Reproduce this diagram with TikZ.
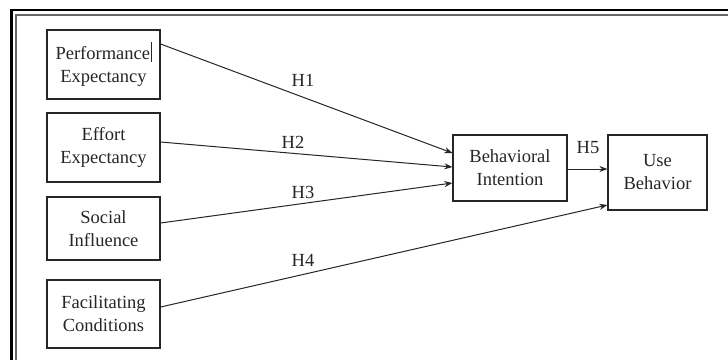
\documentclass[tikz,border=0pt]{standalone}
\usepackage{fontspec}
\setmainfont{Liberation Serif}
\usetikzlibrary{arrows.meta}
\begin{document}
\begin{tikzpicture}[x=1pt,y=-1pt,
  box/.style={draw=black!85,line width=1.2pt,align=center,inner sep=0pt,
    font=\fontsize{18.5}{23}\selectfont,text=black!85},
  lab/.style={font=\fontsize{18.5}{22}\selectfont,text=black!85,inner sep=0pt},
  conn/.style={draw=black!85,line width=1pt,-{Stealth[length=8pt,width=6pt]}}]
\useasboundingbox (0,0) rectangle (728,360);
\fill[white] (0,0) rectangle (728,360);
% frame
\draw[black,line width=2.2pt] (11.5,360) -- (11.5,10.3) -- (728,10.3);
\draw[black!60,line width=1.3pt] (16,360) -- (16,15) -- (728,15);
% nodes
\node[box,minimum width=113pt,minimum height=69pt] (PE) at (103.5,64.5) {Performance\kern0.5pt\rule[-0.25ex]{0.9pt}{1.05em}\\Expectancy};
\node[box,minimum width=113pt,minimum height=69pt] (EE) at (103.5,147.5) {Effort\\Expectancy};
\node[box,minimum width=113pt,minimum height=63pt] (SI) at (103.5,228.5) {Social\\Influence};
\node[box,minimum width=113pt,minimum height=68pt] (FC) at (103.5,314) {Facilitating\\Conditions};
\node[box,minimum width=114pt,minimum height=66pt] (BI) at (510,168) {Behavioral\\Intention};
\node[box,minimum width=99pt,minimum height=75pt] (UB) at (657.5,172.5) {Use\\Behavior};
% connectors
\draw[conn] ([yshift=20.5pt]PE.east) -- ([yshift=15pt]BI.west);
\draw[conn] ([yshift=5.5pt]EE.east) -- ([yshift=1pt]BI.west);
\draw[conn] ([yshift=5.5pt]SI.east) -- ([yshift=-15pt]BI.west);
\draw[conn] ([yshift=7pt]FC.east) -- ([yshift=-32.5pt]UB.west);
\draw[conn] ([yshift=-1pt]BI.east) -- ([yshift=-1pt]BI.east -| UB.west);
% labels
\node[lab] (h1) at (303,80) {H1};
\node[lab] (h2) at (293,142) {H2};
\node[lab] (h3) at (303,192) {H3};
\node[lab] (h4) at (303,260) {H4};
\node[lab] (h5) at (588,148) {H5};
\end{tikzpicture}
\end{document}
